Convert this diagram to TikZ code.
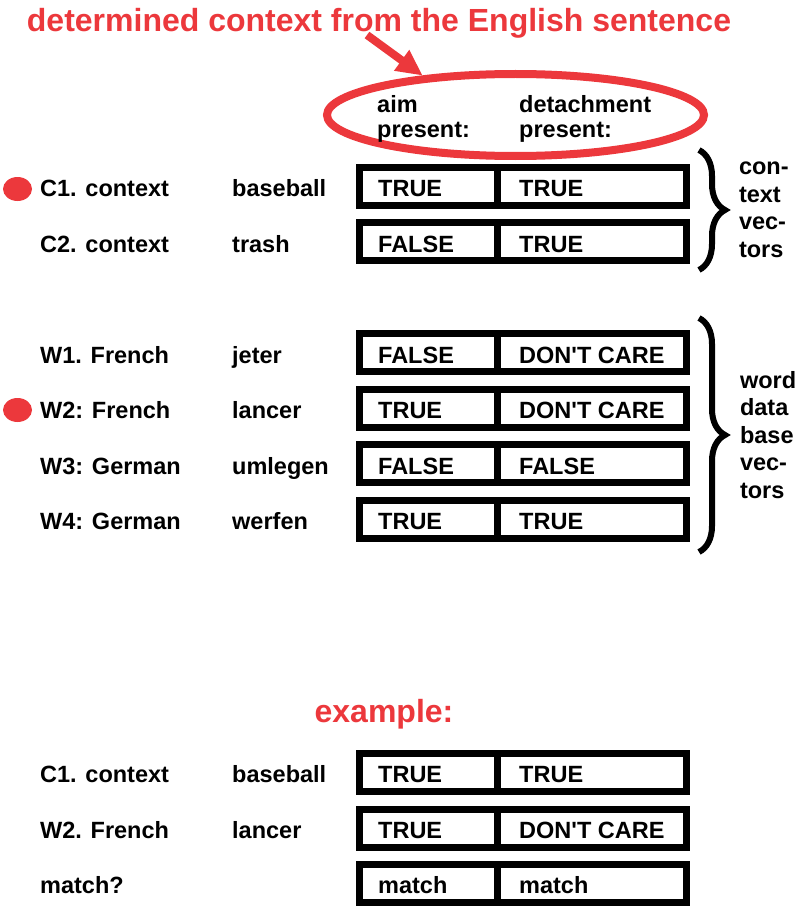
\documentclass[tikz,border=0pt]{standalone}
\usepackage{fontspec}
\setmainfont{Liberation Sans}
\usetikzlibrary{shapes.geometric,decorations.pathreplacing,arrows.meta}
\definecolor{rojo}{RGB}{236,56,60}

\tikzset{
  txt/.style={font=\fontsize{23.5}{27.5}\selectfont\bfseries, inner sep=0pt,
    text height=21pt, text depth=0pt},
  linea/.style={font=\fontsize{23.5}{27.5}\selectfont\bfseries, inner sep=0pt},
  titulo/.style={font=\fontsize{32}{36}\selectfont\bfseries, text=rojo, inner sep=0pt},
  celda/.style={draw, line width=7pt, outer sep=0pt, inner sep=0pt, minimum height=38pt},
  punto/.style={ellipse, fill=rojo, inner sep=0pt, minimum width=29pt, minimum height=24pt},
  llave/.style={decorate, decoration={brace, amplitude=26pt}, line width=6pt},
}

\begin{document}
\begin{tikzpicture}[x=1pt,y=-1pt]
\useasboundingbox (0,0) rectangle (800,915);

% Titulo
\node[titulo, anchor=base] (tit) at (379,32) {determined context from the English sentence};

% Contexto determinado
\node[ellipse, draw=rojo, line width=8pt, minimum width=377pt, minimum height=82pt]
  (ctx) at (515.5,115) {};
\node[linea, anchor=base west] (aim1) at (377,113) {aim};
\node[linea, anchor=base west] (aim2) at (377,137) {present:};
\node[linea, anchor=base west] (det1) at (519,113) {detachment};
\node[linea, anchor=base west] (det2) at (519,137) {present:};

% Flecha
\coordinate (cola) at (367,35);
\draw[rojo, line width=8pt, -{Triangle[length=26pt,width=24pt]}] (cola) -- (ctx.157);

% Filas
\foreach \fila/\izq/\med/\a/\b [count=\n] in {
    186/C1. context/baseball/TRUE/TRUE,
    241.5/C2. context/trash/FALSE/TRUE,
    352.5/W1. French/jeter/FALSE/DON\textquotesingle T CARE,
    408/W2: French/lancer/TRUE/DON\textquotesingle T CARE,
    463.5/W3: German/umlegen/FALSE/FALSE,
    519/W4: German/werfen/TRUE/TRUE,
    772/C1. context/baseball/TRUE/TRUE,
    828/W2. French/lancer/TRUE/DON\textquotesingle T CARE,
    883/match?/{}/match/match} {

    \node[txt, anchor=west] (l\n) at (40,\fila) {\izq};
    \node[txt, anchor=west] (m\n) at (232,\fila) {\med};

    \node[celda, minimum width=137.5pt,
      label={[txt, anchor=west, xshift=18.5pt]west:\a}] (a\n) at (428.25,\fila) {};
    \node[celda, minimum width=189pt,
      label={[txt, anchor=west, xshift=22pt]west:\b}] (b\n) at (591.5,\fila) {};
}

% Puntos rojos
\node[punto] (p1) at (17.5,189) {};
\node[punto] (p2) at (17.5,410) {};

% Llaves
\draw[llave] (699,150) -- (699,270)
  node[linea, midway, anchor=west, xshift=37pt, align=left] (vc) {con-\\text\\vec-\\tors};
\draw[llave] (699,318) -- (699,552)
  node[linea, midway, anchor=west, xshift=38pt, align=left] (vw) {word\\data\\base\\vec-\\tors};

% Ejemplo
\node[titulo, anchor=base] (ej) at (384,722) {example:};
\end{tikzpicture}
\end{document}
